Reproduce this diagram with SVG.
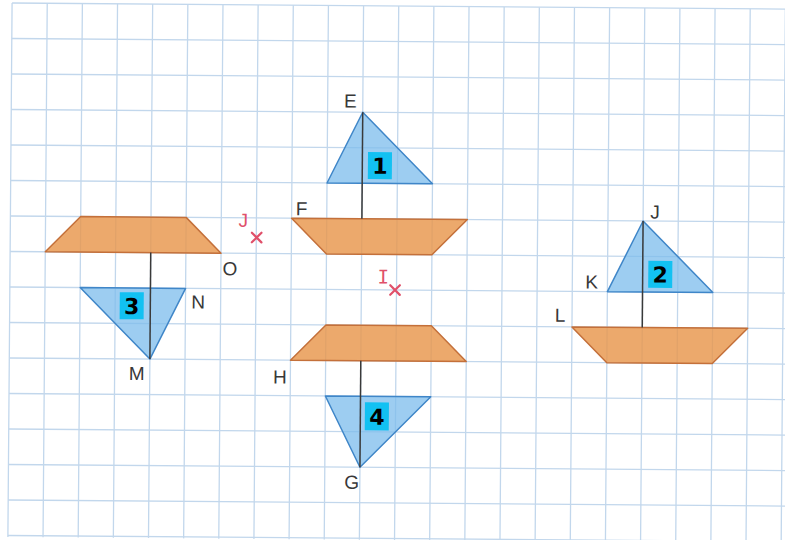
<svg xmlns="http://www.w3.org/2000/svg" width="785" height="540" viewBox="0 0 785 540">
<style>
.grid{stroke:#c2d7ec;stroke-width:1.3;fill:none}
.hull{fill:#e8964c;fill-opacity:0.82;stroke:#c4703a;stroke-width:1.5;stroke-linejoin:round}
.sail{fill:#7cbcec;fill-opacity:0.75;stroke:#3f86c8;stroke-width:1.5;stroke-linejoin:round}
.mast{stroke:#3a3a3a;stroke-width:1.5}
.box{fill:#12c1f2}
.num{font-family:"DejaVu Sans",sans-serif;font-weight:bold;font-size:22px;fill:#000;text-anchor:middle}
.lbl{font-family:"Liberation Sans",Arial,sans-serif;font-size:19px;fill:#383838;text-anchor:middle}
.red{font-family:"Liberation Sans",Arial,sans-serif;font-size:19px;fill:#e0506a;text-anchor:middle}
.cross{stroke:#e0506a;stroke-width:2.2;stroke-linecap:round}
</style>
<rect x="0" y="0" width="785" height="540" fill="#ffffff"/>
<g transform="rotate(0.45 392 270)">
<g id="grid">
<path class="grid" d="M10 6V540M45.15 6V540M80.3 6V540M115.45 6V540M150.6 6V540M185.75 6V540M220.9 6V540M256.05 6V540M291.2 6V540M326.35 6V540M361.5 6V540M396.65 6V540M431.8 6V540M466.95 6V540M502.1 6V540M537.25 6V540M572.4 6V540M607.55 6V540M642.7 6V540M677.85 6V540M713 6V540M748.15 6V540M783.3 6V540"/>
<path class="grid" d="M10 6H790M10 41.5H790M10 77H790M10 112.5H790M10 148H790M10 183.5H790M10 219H790M10 254.5H790M10 290H790M10 325.5H790M10 361H790M10 396.5H790M10 432H790M10 467.5H790M10 503H790M10 538.5H790"/>
</g>
<g id="boat1">
<polygon class="sail" points="361.5,112.5 326.35,183.5 431.8,183.5"/>
<polygon class="hull" points="291.2,219 466.95,219 431.8,254.5 326.35,254.5"/>
<line class="mast" x1="361.5" y1="112.5" x2="361.5" y2="219"/>
<rect class="box" x="367.1" y="152.3" width="24" height="27"/>
<text class="num" x="379.1" y="174">1</text>
<text class="lbl" x="349" y="108">E</text>
<text class="lbl" x="301.2" y="216">F</text>
</g>
<g id="boat2">
<polygon class="sail" points="642.7,219 607.55,290 713,290"/>
<polygon class="hull" points="572.4,325.5 748.15,325.5 713,361 607.55,361"/>
<line class="mast" x1="642.7" y1="219" x2="642.7" y2="325.5"/>
<rect class="box" x="648.3" y="258.8" width="24" height="27"/>
<text class="num" x="660.3" y="280.5">2</text>
<text class="lbl" x="654.5" y="216.5">J</text>
<text class="lbl" x="591.8" y="287">K</text>
<text class="lbl" x="560.4" y="320.5">L</text>
</g>
<g id="boat3">
<polygon class="hull" points="80.3,219 185.75,219 220.9,254.5 45.15,254.5"/>
<polygon class="sail" points="80.3,290 185.75,290 150.6,361"/>
<line class="mast" x1="150.6" y1="254.5" x2="150.6" y2="361"/>
<rect class="box" x="120" y="294.3" width="24" height="27"/>
<text class="num" x="132" y="316">3</text>
<text class="lbl" x="230" y="276.5">O</text>
<text class="lbl" x="198.5" y="310">N</text>
<text class="lbl" x="137.5" y="382">M</text>
</g>
<g id="boat4">
<polygon class="hull" points="326.35,325.5 431.8,325.5 466.95,361 291.2,361"/>
<polygon class="sail" points="326.35,396.5 431.8,396.5 361.5,467.5"/>
<line class="mast" x1="361.5" y1="361" x2="361.5" y2="467.5"/>
<rect class="box" x="366" y="402.5" width="24" height="28"/>
<text class="num" x="378" y="425">4</text>
<text class="lbl" x="280.8" y="384.5">H</text>
<text class="lbl" x="353.4" y="489">G</text>
</g>
<g id="pointJ">
<text class="red" x="243" y="228">J</text>
<path class="cross" d="M251.6 233.8L261.2 243.4M261.2 233.8L251.6 243.4"/>
</g>
<g id="pointI">
<text class="red" x="383.4" y="283.5" style="font-family:'DejaVu Sans Mono',monospace">I</text>
<path class="cross" d="M390.4 285.2L400 294.8M400 285.2L390.4 294.8"/>
</g>
</g>
</svg>
